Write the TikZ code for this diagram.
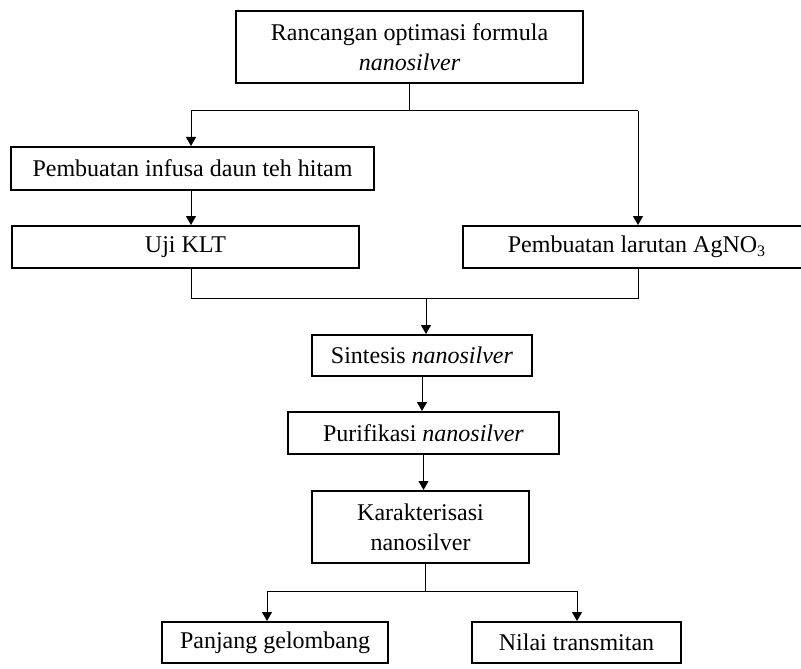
\documentclass[tikz,border=0pt]{standalone}
\usepackage{fontspec}
\setmainfont{Liberation Serif}
\usetikzlibrary{arrows.meta}

\begin{document}
\begin{tikzpicture}[x=0.5pt, y=-0.5pt,
    box/.style={draw, line width=1pt, inner sep=0pt, align=center, font=\fontsize{12}{15}\selectfont},
    arr/.style={-{Triangle[length=4.5pt,width=5pt]}, line width=0.5pt},
    garis/.style={line width=0.5pt}]
  \useasboundingbox (0,0) rectangle (801,668);
  \clip (0,0) rectangle (801,668);
  % kotak-kotak
  \node [box, minimum width=173.5pt, minimum height=36pt] (rancangan) at (409.5,47) {Rancangan optimasi formula\\\textit{nanosilver}};
  \node [box, minimum width=181.5pt, minimum height=21.5pt] (infusa) at (192.5,168.5) {Pembuatan infusa daun teh hitam};
  \node [box, minimum width=173.5pt, minimum height=21pt] (klt) at (185.5,247) {Uji KLT};
  \node [box, minimum width=174pt, minimum height=21pt] (larutan) at (637,247) {Pembuatan larutan AgNO\textsubscript{3}};
  \node [box, minimum width=110pt, minimum height=20.5pt] (sintesis) at (422,355.5) {Sintesis \textit{nanosilver}};
  \node [box, minimum width=135.5pt, minimum height=21pt] (purifikasi) at (423.5,433) {Purifikasi \textit{nanosilver}};
  \node [box, minimum width=108.5pt, minimum height=36pt] (karakter) at (420.5,527) {Karakterisasi\\nanosilver};
  \node [box, minimum width=113pt, minimum height=20.5pt] (panjang) at (275,642.5) {Panjang gelombang};
  \node [box, minimum width=104.5pt, minimum height=20.5pt] (nilai) at (576.5,642.5) {Nilai transmitan};
  % titik cabang
  \coordinate (cabangA) at (409.5,111);
  \coordinate (kiriA) at (191,111);
  \coordinate (kananA) at (638,111);
  \coordinate (gabungL) at (191,298);
  \coordinate (gabungR) at (638,298);
  \coordinate (gabungM) at (426,298);
  \coordinate (cabangB) at (425,591);
  \coordinate (kiriB) at (267,591);
  \coordinate (kananB) at (577,591);
  % panah
  \draw [garis] (rancangan.south) -- (cabangA);
  \draw [garis] (kiriA) -- (kananA);
  \draw [arr] (kiriA) -- (kiriA |- infusa.north);
  \draw [arr] (kananA) -- (kananA |- larutan.north);
  \draw [arr] (kiriA |- infusa.south) -- (kiriA |- klt.north);
  \draw [garis] (kiriA |- klt.south) -- (gabungL) -- (gabungR) -- (kananA |- larutan.south);
  \draw [arr] (gabungM) -- (gabungM |- sintesis.north);
  \draw [arr] (sintesis.south) -- (sintesis.south |- purifikasi.north);
  \draw [arr] (purifikasi.south) -- (purifikasi.south |- karakter.north);
  \draw [garis] (cabangB |- karakter.south) -- (cabangB);
  \draw [garis] (kiriB) -- (kananB);
  \draw [arr] (kiriB) -- (kiriB |- panjang.north);
  \draw [arr] (kananB) -- (kananB |- nilai.north);
\end{tikzpicture}
\end{document}
